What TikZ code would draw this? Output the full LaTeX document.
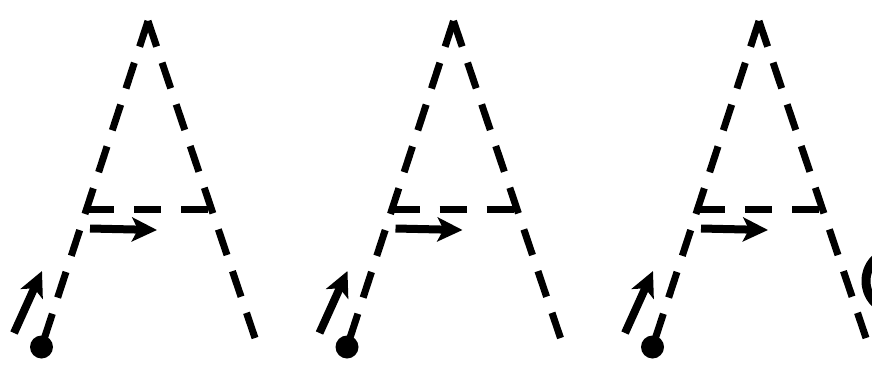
\documentclass[tikz,border=0pt]{standalone}
\usetikzlibrary{arrows.meta}
\begin{document}
\begin{tikzpicture}[x=1pt,y=-1pt,
  leg/.style={line width=7pt, dash pattern=on 27pt off 17pt},
  crossbar/.style={line width=7pt, dash pattern=on 27pt off 20pt},
  guide/.style={line width=8pt, -{Stealth[length=25pt,width=24pt,inset=6pt]}},
  startdot/.style={circle, fill=black, inner sep=0pt, minimum size=23pt},
]
\useasboundingbox (0,0) rectangle (872,364);
\foreach \i in {0,1,2} {
  \begin{scope}[xshift=\i*305.5pt]
    \coordinate (apex\i) at (148,21);
    \coordinate (foot\i) at (255,338);
    \coordinate (L\i) at (87,209.5);
    \coordinate (R\i) at (211.5,209.5);
    \node[startdot] (dot\i) at (41.5,347) {};
    \draw[leg] (apex\i) -- (dot\i.center);
    \draw[leg] (apex\i) -- (foot\i);
    \draw[crossbar] (L\i) -- (R\i);
    \coordinate (t1\i) at (14,333);
    \coordinate (h1\i) at (42,271);
    \coordinate (t2\i) at (90,228.5);
    \coordinate (h2\i) at (157,230);
    \draw[guide] (t1\i) -- (h1\i);
    \draw[guide] (t2\i) -- (h2\i);
  \end{scope}
}
\coordinate (ringc) at (890,281);
\draw[line width=9pt] (ringc) ellipse [x radius=24pt, y radius=28pt];
\end{tikzpicture}
\end{document}
